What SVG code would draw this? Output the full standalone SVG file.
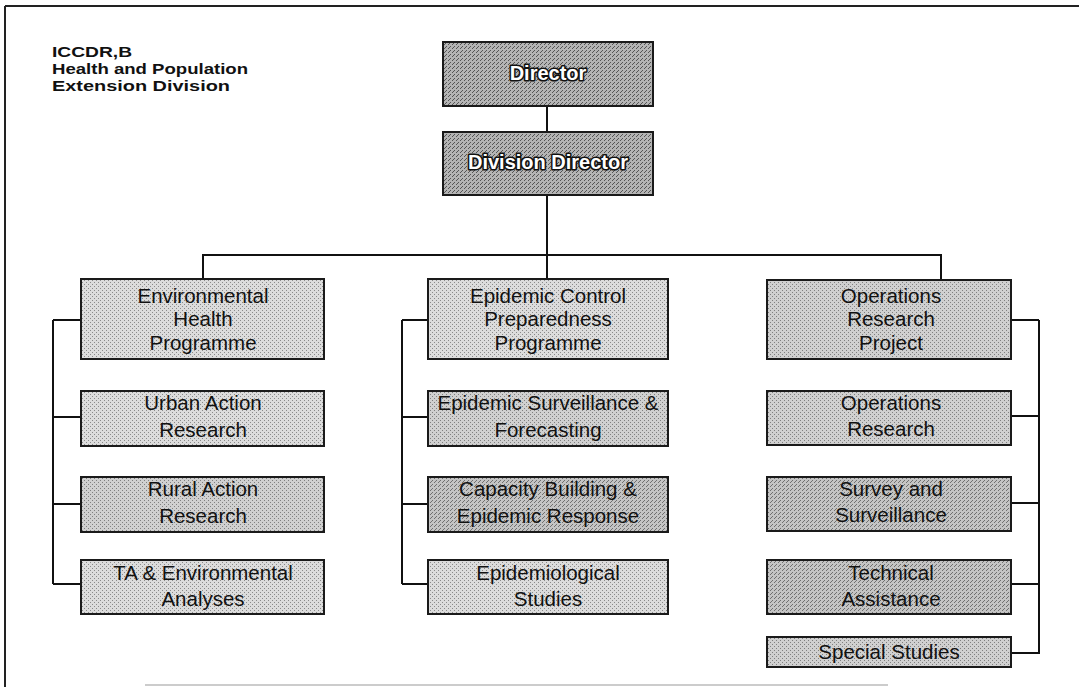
<svg xmlns="http://www.w3.org/2000/svg" width="1079" height="687" viewBox="0 0 1079 687">
  <style>
    .box { stroke: #1a1a1a; stroke-width: 2; }
    .lbl { font-family: "Liberation Sans", Arial, sans-serif; font-size: 20.5px; fill: #111; text-anchor: middle; }
    .head { font-family: "Liberation Sans", Arial, sans-serif; font-size: 20px; font-weight: bold; fill: #fff; stroke: #111; stroke-width: 3.2; paint-order: stroke; stroke-linejoin: round; text-anchor: middle; }
    .title { font-family: "Liberation Sans", Arial, sans-serif; font-size: 15px; font-weight: bold; fill: #111; }
    .wire { stroke: #111; stroke-width: 2; fill: none; }
  </style>
  <defs>
    <!-- halftone fills in a few grey tones -->
    <pattern id="toneL" width="4" height="4" patternUnits="userSpaceOnUse">
      <rect width="4" height="4" fill="#dcdcdc"/>
      <rect x="0" y="0" width="1" height="1" fill="#8a8a8a"/>
      <rect x="2" y="2" width="1" height="1" fill="#8a8a8a"/>
    </pattern>
    <pattern id="toneM" width="4" height="4" patternUnits="userSpaceOnUse">
      <rect width="4" height="4" fill="#d0d0d0"/>
      <rect x="0" y="0" width="1" height="1" fill="#808080"/>
      <rect x="2" y="2" width="1" height="1" fill="#808080"/>
    </pattern>
    <pattern id="toneD" width="4" height="4" patternUnits="userSpaceOnUse">
      <rect width="4" height="4" fill="#c4c4c4"/>
      <rect x="0" y="0" width="1" height="1" fill="#707070"/>
      <rect x="2" y="2" width="1" height="1" fill="#707070"/>
      <rect x="3" y="1" width="1" height="1" fill="#707070"/>
    </pattern>
    <pattern id="toneH" width="4" height="4" patternUnits="userSpaceOnUse">
      <rect width="4" height="4" fill="#b4b4b4"/>
      <rect x="0" y="0" width="1" height="1" fill="#555"/>
      <rect x="2" y="2" width="1" height="1" fill="#555"/>
      <rect x="1" y="3" width="1" height="1" fill="#555"/>
    </pattern>
  </defs>

  <rect width="1079" height="687" fill="#fff"/>

  <!-- page frame -->
  <g id="frame">
    <line x1="5" y1="6" x2="1079" y2="6" stroke="#222" stroke-width="2"/>
    <line x1="5" y1="6" x2="5" y2="687" stroke="#222" stroke-width="2"/>
    <line x1="145" y1="685" x2="888" y2="685" stroke="#bbb" stroke-width="1.5"/>
  </g>

  <!-- heading -->
  <g id="title" class="title">
    <text x="52" y="57" textLength="80" lengthAdjust="spacingAndGlyphs">ICCDR,B</text>
    <text x="52" y="74" textLength="196" lengthAdjust="spacingAndGlyphs">Health and Population</text>
    <text x="52" y="91" textLength="178" lengthAdjust="spacingAndGlyphs">Extension Division</text>
  </g>

  <!-- connectors -->
  <g id="connectors" class="wire">
    <line x1="547" y1="106" x2="547" y2="132"/>
    <line x1="547" y1="195" x2="547" y2="279"/>
    <polyline points="203,279 203,255 941,255 941,280"/>
    <!-- left branch -->
    <line x1="53" y1="320" x2="53" y2="584"/>
    <line x1="53" y1="320" x2="81" y2="320"/>
    <line x1="53" y1="417" x2="81" y2="417"/>
    <line x1="53" y1="504" x2="81" y2="504"/>
    <line x1="53" y1="584" x2="81" y2="584"/>
    <!-- middle branch -->
    <line x1="402" y1="320" x2="402" y2="584"/>
    <line x1="402" y1="320" x2="428" y2="320"/>
    <line x1="402" y1="417" x2="428" y2="417"/>
    <line x1="402" y1="504" x2="428" y2="504"/>
    <line x1="402" y1="584" x2="428" y2="584"/>
    <!-- right branch -->
    <line x1="1039" y1="320" x2="1039" y2="654"/>
    <line x1="1011" y1="320" x2="1039" y2="320"/>
    <line x1="1011" y1="416" x2="1039" y2="416"/>
    <line x1="1011" y1="503" x2="1039" y2="503"/>
    <line x1="1011" y1="584" x2="1039" y2="584"/>
    <line x1="1011" y1="653" x2="1039" y2="653"/>
  </g>

  <!-- top management -->
  <g id="director">
    <rect class="box" x="443" y="42" width="210" height="64" fill="url(#toneH)"/>
    <text class="head" x="548" y="80">Director</text>
  </g>
  <g id="division-director">
    <rect class="box" x="443" y="132" width="210" height="63" fill="url(#toneH)"/>
    <text class="head" x="548" y="169">Division Director</text>
  </g>

  <!-- left column -->
  <g id="env-health">
    <rect class="box" x="81" y="279" width="243" height="80" fill="url(#toneL)"/>
    <text class="lbl" x="203" y="303">Environmental</text>
    <text class="lbl" x="203" y="326">Health</text>
    <text class="lbl" x="203" y="350">Programme</text>
  </g>
  <g id="urban-action">
    <rect class="box" x="81" y="391" width="243" height="55" fill="url(#toneL)"/>
    <text class="lbl" x="203" y="410">Urban Action</text>
    <text class="lbl" x="203" y="437">Research</text>
  </g>
  <g id="rural-action">
    <rect class="box" x="81" y="477" width="243" height="55" fill="url(#toneM)"/>
    <text class="lbl" x="203" y="496">Rural Action</text>
    <text class="lbl" x="203" y="523">Research</text>
  </g>
  <g id="ta-env">
    <rect class="box" x="81" y="560" width="243" height="54" fill="url(#toneL)"/>
    <text class="lbl" x="203" y="580">TA &amp; Environmental</text>
    <text class="lbl" x="203" y="606">Analyses</text>
  </g>

  <!-- middle column -->
  <g id="epidemic-control">
    <rect class="box" x="428" y="279" width="240" height="80" fill="url(#toneL)"/>
    <text class="lbl" x="548" y="303">Epidemic Control</text>
    <text class="lbl" x="548" y="326">Preparedness</text>
    <text class="lbl" x="548" y="350">Programme</text>
  </g>
  <g id="surveillance-forecasting">
    <rect class="box" x="428" y="391" width="240" height="55" fill="url(#toneM)"/>
    <text class="lbl" x="548" y="410">Epidemic Surveillance &amp;</text>
    <text class="lbl" x="548" y="437">Forecasting</text>
  </g>
  <g id="capacity-building">
    <rect class="box" x="428" y="477" width="240" height="55" fill="url(#toneD)"/>
    <text class="lbl" x="548" y="496">Capacity Building &amp;</text>
    <text class="lbl" x="548" y="523">Epidemic Response</text>
  </g>
  <g id="epidemiological">
    <rect class="box" x="428" y="560" width="240" height="54" fill="url(#toneL)"/>
    <text class="lbl" x="548" y="580">Epidemiological</text>
    <text class="lbl" x="548" y="606">Studies</text>
  </g>

  <!-- right column -->
  <g id="or-project">
    <rect class="box" x="767" y="280" width="244" height="79" fill="url(#toneM)"/>
    <text class="lbl" x="891" y="303">Operations</text>
    <text class="lbl" x="891" y="326">Research</text>
    <text class="lbl" x="891" y="350">Project</text>
  </g>
  <g id="operations-research">
    <rect class="box" x="767" y="391" width="244" height="54" fill="url(#toneM)"/>
    <text class="lbl" x="891" y="410">Operations</text>
    <text class="lbl" x="891" y="436">Research</text>
  </g>
  <g id="survey">
    <rect class="box" x="767" y="477" width="244" height="54" fill="url(#toneD)"/>
    <text class="lbl" x="891" y="496">Survey and</text>
    <text class="lbl" x="891" y="522">Surveillance</text>
  </g>
  <g id="technical-assistance">
    <rect class="box" x="767" y="560" width="244" height="54" fill="url(#toneD)"/>
    <text class="lbl" x="891" y="580">Technical</text>
    <text class="lbl" x="891" y="606">Assistance</text>
  </g>
  <g id="special-studies">
    <rect class="box" x="767" y="637" width="244" height="30" fill="url(#toneM)"/>
    <text class="lbl" x="889" y="659">Special Studies</text>
  </g>
</svg>
